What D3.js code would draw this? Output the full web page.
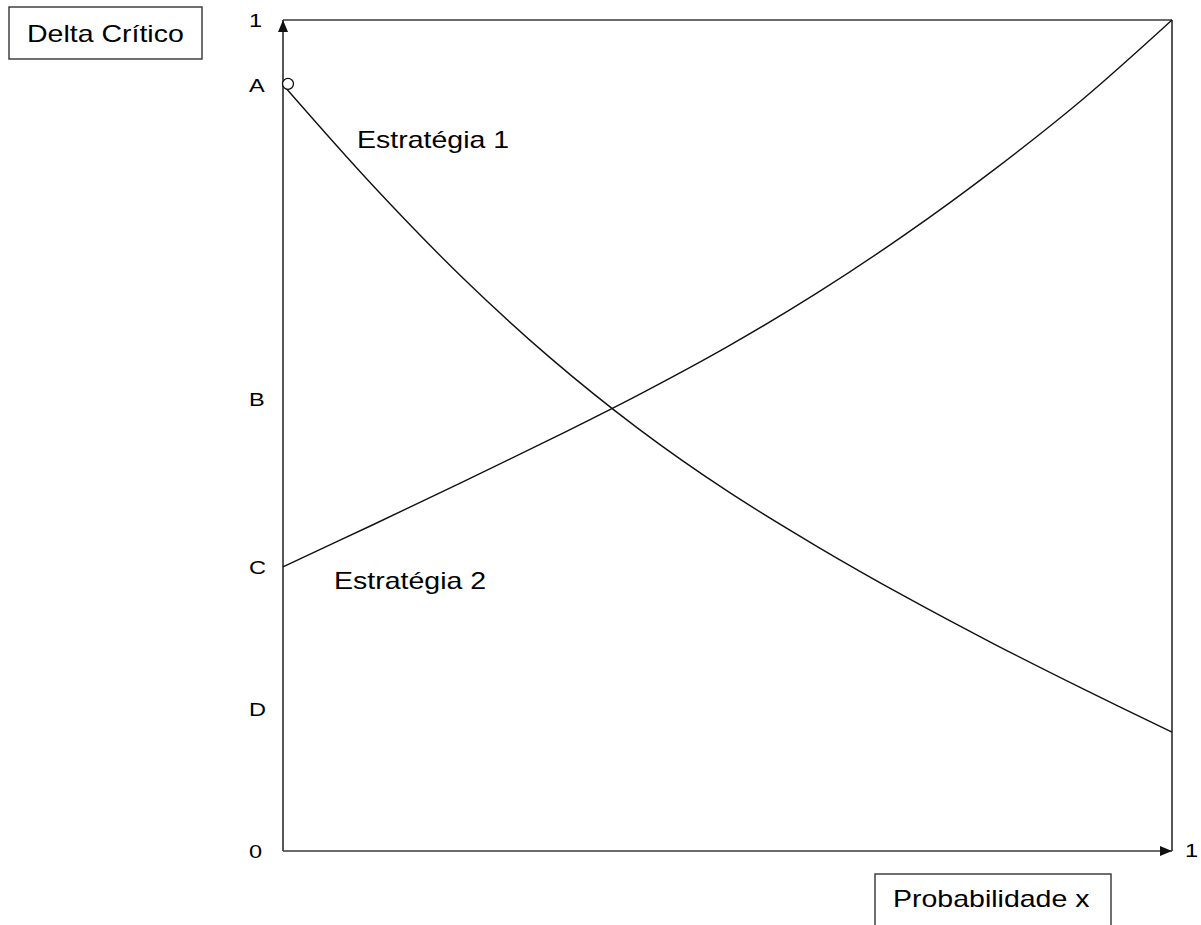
<!DOCTYPE html>
<html>
<head>
<meta charset="utf-8">
<script src="https://cdn.jsdelivr.net/npm/d3@7"></script>
<style>
    body { margin: 0; background: #fff; }
    svg { display: block; font-family: Arial, "Liberation Sans", sans-serif; }
</style>
</head>
<body>
<svg id="chart" width="1201" height="925"></svg>
<script>
// Probability x (horizontal) and the two critical-delta curves
var probX = [0, 0.1, 0.2, 0.3, 0.4, 0.5, 0.6, 0.7, 0.8, 0.9, 1];
var strategy1 = [0.922, 0.802, 0.692, 0.594, 0.508, 0.433, 0.367, 0.306, 0.249, 0.195, 0.143];
var strategy2 = [0.342, 0.392, 0.443, 0.495, 0.549, 0.607, 0.671, 0.742, 0.820, 0.905, 1.0];

var yTickValues = [0, 0.170, 0.342, 0.543, 0.922, 1];
var yTickLabels = ['0', 'D', 'C', 'B', 'A', '1'];
var xTickLabels = ['1'];

var seriesLabels = ['Estratégia 1', 'Estratégia 2'];
var yTitle = 'Delta Crítico';
var xTitle = 'Probabilidade x';

var stretch = 1.24; // the original text is widened horizontally

var svg = d3.select('#chart');
var plotLeft = 283, plotRight = 1172, plotTop = 20, plotBottom = 851;

var xScale = d3.scaleLinear().domain([0, 1]).range([plotLeft, plotRight]);
var yScale = d3.scaleLinear().domain([0, 1]).range([plotBottom, plotTop]);

var defs = svg.append('defs');
defs.append('marker')
    .attr('id', 'arrow')
    .attr('viewBox', '0 0 12 10')
    .attr('refX', 12)
    .attr('refY', 5)
    .attr('markerWidth', 12)
    .attr('markerHeight', 10)
    .attr('markerUnits', 'userSpaceOnUse')
    .attr('orient', 'auto')
    .append('path')
    .attr('d', 'M0,0L12,5L0,10Z')
    .attr('fill', '#111');

function stretchedText(x, y, str, size) {
    return svg.append('text')
        .attr('transform', 'translate(' + x + ',' + y + ') scale(' + stretch + ',1)')
        .style('font-size', size + 'px')
        .attr('fill', '#000')
        .text(str);
}

/* Frame and axes */
var frame = svg.append('g')
    .attr('stroke', '#3a3a3a')
    .attr('stroke-width', 1.7)
    .attr('fill', 'none');

frame.append('line')
    .attr('x1', xScale(0)).attr('y1', yScale(1))
    .attr('x2', xScale(1)).attr('y2', yScale(1));
frame.append('line')
    .attr('x1', xScale(1)).attr('y1', yScale(1))
    .attr('x2', xScale(1)).attr('y2', yScale(0));
frame.append('line')
    .attr('x1', xScale(0)).attr('y1', yScale(0))
    .attr('x2', xScale(0)).attr('y2', yScale(1))
    .attr('marker-end', 'url(#arrow)');
frame.append('line')
    .attr('x1', xScale(0)).attr('y1', yScale(0))
    .attr('x2', xScale(1)).attr('y2', yScale(0))
    .attr('marker-end', 'url(#arrow)');

/* Tick labels */
var yAxis = d3.axisLeft(yScale)
    .tickValues(yTickValues)
    .tickSize(0)
    .tickFormat(function(d, i) { return yTickLabels[i]; });

var yAxisG = svg.append('g')
    .attr('transform', 'translate(' + plotLeft + ',0)')
    .call(yAxis);
yAxisG.select('.domain').remove();
yAxisG.selectAll('text')
    .attr('x', null)
    .attr('dy', null)
    .attr('text-anchor', 'start')
    .attr('dominant-baseline', 'central')
    .attr('transform', 'translate(-34,0) scale(' + stretch + ',1)')
    .style('font-size', '19px')
    .style('font-family', 'Arial, "Liberation Sans", sans-serif')
    .attr('fill', '#000');

svg.selectAll('.x-tick')
    .data(xTickLabels)
    .join('text')
    .attr('class', 'x-tick')
    .attr('transform', 'translate(' + (xScale(1) + 13) + ',' + yScale(0) + ') scale(' + stretch + ',1)')
    .attr('dominant-baseline', 'central')
    .style('font-size', '19px')
    .text(function(d) { return d; });

/* Curves */
var line = d3.line()
    .x(function(d) { return xScale(d[0]); })
    .y(function(d) { return yScale(d[1]); })
    .curve(d3.curveCatmullRom);

var curves = [strategy1, strategy2].map(function(values) {
    return probX.map(function(x, i) { return [x, values[i]]; });
});

svg.append('g')
    .selectAll('path')
    .data(curves)
    .join('path')
    .attr('fill', 'none')
    .attr('stroke', '#111')
    .attr('stroke-width', 1.4)
    .attr('d', line);

// open circle at point A
svg.append('circle')
    .attr('cx', xScale(probX[0]) + 5)
    .attr('cy', yScale(strategy1[0]) - 1)
    .attr('r', 5.5)
    .attr('fill', '#fff')
    .attr('stroke', '#111')
    .attr('stroke-width', 1.3);

/* Labels */
stretchedText(357, 148, seriesLabels[0], 23);
stretchedText(334, 589, seriesLabels[1], 23);

svg.append('rect')
    .attr('x', 9).attr('y', 7)
    .attr('width', 193).attr('height', 52)
    .attr('fill', 'none').attr('stroke', '#333').attr('stroke-width', 1.4);
stretchedText(27, 42, yTitle, 23);

svg.append('rect')
    .attr('x', 875).attr('y', 874)
    .attr('width', 236).attr('height', 80)
    .attr('fill', 'none').attr('stroke', '#333').attr('stroke-width', 1.4);
stretchedText(893, 907, xTitle, 23);
</script>
</body>
</html>
